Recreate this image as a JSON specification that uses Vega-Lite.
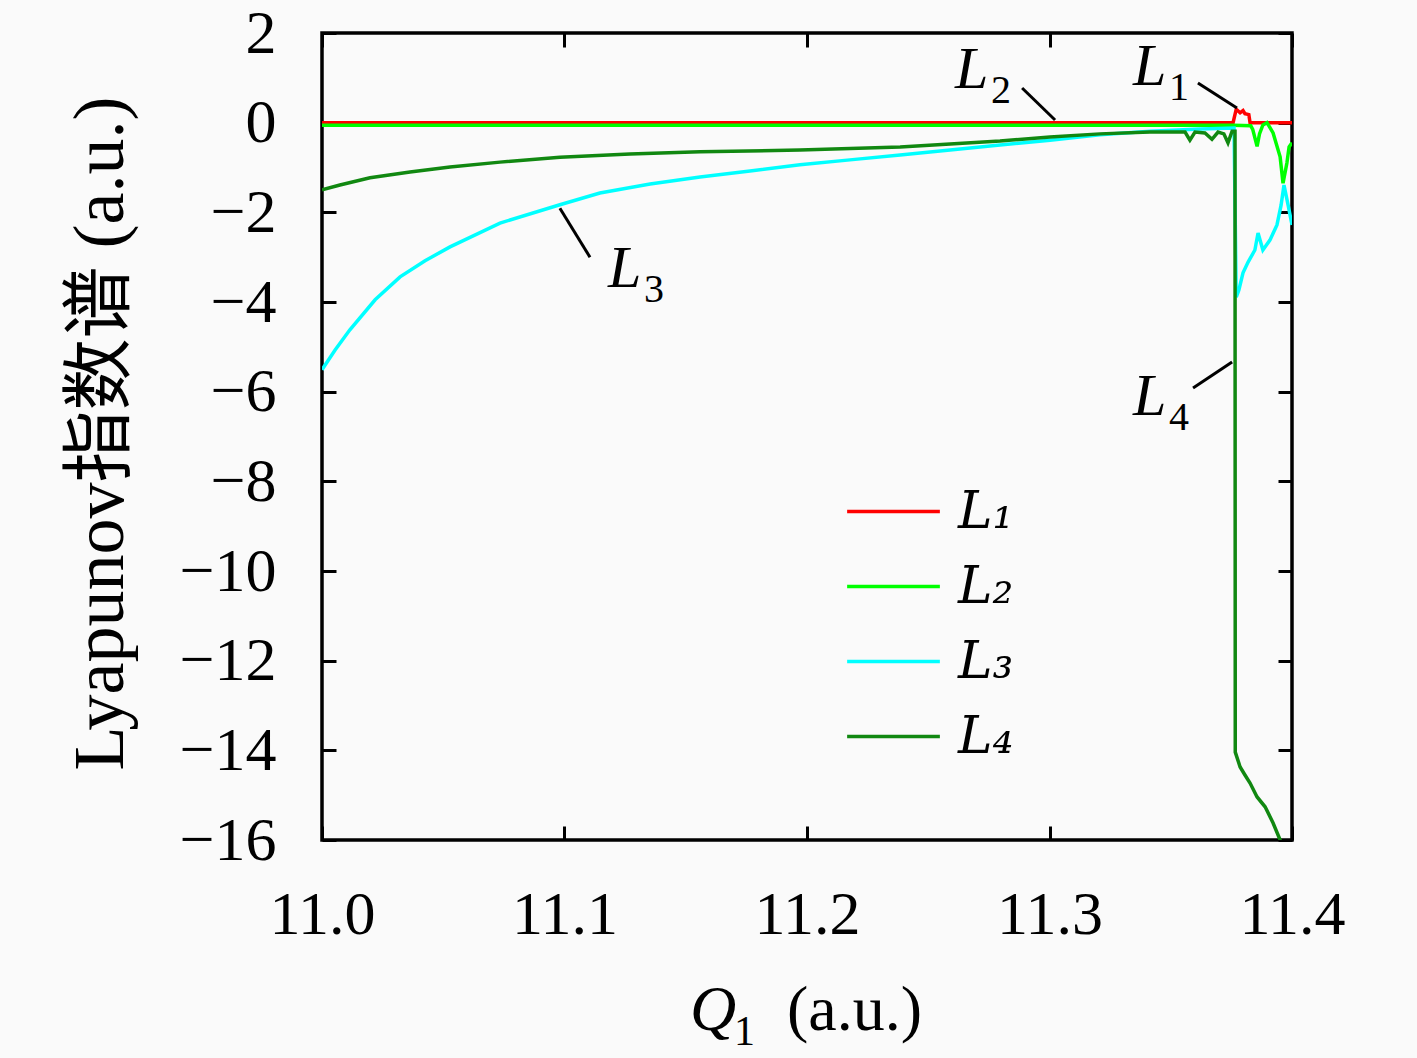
{
  "$schema": "https://vega.github.io/schema/vega-lite/v6.json",
  "autosize": "none",
  "width": 970,
  "height": 807,
  "padding": {"left": 322, "top": 33, "right": 125, "bottom": 218},
  "background": "#fafafa",
  "config": {
    "font": "Liberation Serif, serif",
    "view": {"stroke": "black", "strokeWidth": 3.5},
    "axis": {
      "grid": false,
      "domain": false,
      "tickColor": "black",
      "tickWidth": 3,
      "tickSize": -14,
      "labelFont": "Liberation Serif, serif",
      "labelFontSize": 62,
      "labelColor": "black",
      "titleColor": "black"
    },
    "text": {"font": "Liberation Serif, serif"}
  },
  "datasets": {
    "series": [
      {"exp": "L1", "q": 11.0, "lyap": 0},
      {"exp": "L1", "q": 11.3757, "lyap": 0},
      {"exp": "L1", "q": 11.377, "lyap": 0.3},
      {"exp": "L1", "q": 11.3786, "lyap": 0.22},
      {"exp": "L1", "q": 11.3798, "lyap": 0.27},
      {"exp": "L1", "q": 11.3806, "lyap": 0.2},
      {"exp": "L1", "q": 11.3822, "lyap": 0.18},
      {"exp": "L1", "q": 11.3827, "lyap": 0},
      {"exp": "L1", "q": 11.4, "lyap": 0},

      {"exp": "L2", "q": 11.0, "lyap": -0.06},
      {"exp": "L2", "q": 11.3757, "lyap": -0.06},
      {"exp": "L2", "q": 11.383, "lyap": -0.07},
      {"exp": "L2", "q": 11.3838, "lyap": -0.15},
      {"exp": "L2", "q": 11.3856, "lyap": -0.53},
      {"exp": "L2", "q": 11.3866, "lyap": -0.25},
      {"exp": "L2", "q": 11.388, "lyap": -0.05},
      {"exp": "L2", "q": 11.3897, "lyap": 0.0},
      {"exp": "L2", "q": 11.3922, "lyap": -0.23},
      {"exp": "L2", "q": 11.3951, "lyap": -0.76},
      {"exp": "L2", "q": 11.3963, "lyap": -1.35},
      {"exp": "L2", "q": 11.3979, "lyap": -0.9},
      {"exp": "L2", "q": 11.3988, "lyap": -0.54},
      {"exp": "L2", "q": 11.4, "lyap": -0.45},

      {"exp": "L3", "q": 11.0, "lyap": -5.51},
      {"exp": "L3", "q": 11.0054, "lyap": -5.07},
      {"exp": "L3", "q": 11.0115, "lyap": -4.62},
      {"exp": "L3", "q": 11.0219, "lyap": -3.95},
      {"exp": "L3", "q": 11.0322, "lyap": -3.44},
      {"exp": "L3", "q": 11.0425, "lyap": -3.08},
      {"exp": "L3", "q": 11.0528, "lyap": -2.77},
      {"exp": "L3", "q": 11.0734, "lyap": -2.24},
      {"exp": "L3", "q": 11.0981, "lyap": -1.83},
      {"exp": "L3", "q": 11.1146, "lyap": -1.57},
      {"exp": "L3", "q": 11.1353, "lyap": -1.37},
      {"exp": "L3", "q": 11.1559, "lyap": -1.21},
      {"exp": "L3", "q": 11.1765, "lyap": -1.08},
      {"exp": "L3", "q": 11.1971, "lyap": -0.94},
      {"exp": "L3", "q": 11.2177, "lyap": -0.83},
      {"exp": "L3", "q": 11.2384, "lyap": -0.72},
      {"exp": "L3", "q": 11.259, "lyap": -0.61},
      {"exp": "L3", "q": 11.2796, "lyap": -0.5},
      {"exp": "L3", "q": 11.3002, "lyap": -0.39},
      {"exp": "L3", "q": 11.3208, "lyap": -0.27},
      {"exp": "L3", "q": 11.3414, "lyap": -0.19},
      {"exp": "L3", "q": 11.3621, "lyap": -0.14},
      {"exp": "L3", "q": 11.3761, "lyap": -0.12},
      {"exp": "L3", "q": 11.377, "lyap": -3.89},
      {"exp": "L3", "q": 11.3781, "lyap": -3.73},
      {"exp": "L3", "q": 11.3798, "lyap": -3.35},
      {"exp": "L3", "q": 11.3819, "lyap": -3.11},
      {"exp": "L3", "q": 11.3847, "lyap": -2.84},
      {"exp": "L3", "q": 11.386, "lyap": -2.46},
      {"exp": "L3", "q": 11.388, "lyap": -2.84},
      {"exp": "L3", "q": 11.3909, "lyap": -2.62},
      {"exp": "L3", "q": 11.3938, "lyap": -2.28},
      {"exp": "L3", "q": 11.3955, "lyap": -1.84},
      {"exp": "L3", "q": 11.3967, "lyap": -1.39},
      {"exp": "L3", "q": 11.3984, "lyap": -1.84},
      {"exp": "L3", "q": 11.4, "lyap": -2.28},

      {"exp": "L4", "q": 11.0, "lyap": -1.5},
      {"exp": "L4", "q": 11.0074, "lyap": -1.39},
      {"exp": "L4", "q": 11.0198, "lyap": -1.23},
      {"exp": "L4", "q": 11.0363, "lyap": -1.1},
      {"exp": "L4", "q": 11.0528, "lyap": -0.99},
      {"exp": "L4", "q": 11.0734, "lyap": -0.88},
      {"exp": "L4", "q": 11.0981, "lyap": -0.77},
      {"exp": "L4", "q": 11.127, "lyap": -0.7},
      {"exp": "L4", "q": 11.1559, "lyap": -0.65},
      {"exp": "L4", "q": 11.1971, "lyap": -0.61},
      {"exp": "L4", "q": 11.2384, "lyap": -0.54},
      {"exp": "L4", "q": 11.2796, "lyap": -0.41},
      {"exp": "L4", "q": 11.3002, "lyap": -0.32},
      {"exp": "L4", "q": 11.3208, "lyap": -0.25},
      {"exp": "L4", "q": 11.3414, "lyap": -0.21},
      {"exp": "L4", "q": 11.3559, "lyap": -0.21},
      {"exp": "L4", "q": 11.3579, "lyap": -0.39},
      {"exp": "L4", "q": 11.36, "lyap": -0.21},
      {"exp": "L4", "q": 11.3641, "lyap": -0.23},
      {"exp": "L4", "q": 11.367, "lyap": -0.37},
      {"exp": "L4", "q": 11.3695, "lyap": -0.21},
      {"exp": "L4", "q": 11.3719, "lyap": -0.25},
      {"exp": "L4", "q": 11.3736, "lyap": -0.45},
      {"exp": "L4", "q": 11.3753, "lyap": -0.19},
      {"exp": "L4", "q": 11.3765, "lyap": -0.19},
      {"exp": "L4", "q": 11.3766, "lyap": -14.04},
      {"exp": "L4", "q": 11.3786, "lyap": -14.37},
      {"exp": "L4", "q": 11.3806, "lyap": -14.55},
      {"exp": "L4", "q": 11.3827, "lyap": -14.73},
      {"exp": "L4", "q": 11.3856, "lyap": -15.04},
      {"exp": "L4", "q": 11.3889, "lyap": -15.26},
      {"exp": "L4", "q": 11.3922, "lyap": -15.62},
      {"exp": "L4", "q": 11.3951, "lyap": -16.0},
      {"exp": "L4", "q": 11.3971, "lyap": -16.22}
    ],
    "notes": [
      {"name": "L", "sub": "1", "tx": 11.3344, "ty": 0.84, "ax": 11.3612, "ay": 0.884, "bx": 11.3773, "by": 0.326},
      {"name": "L", "sub": "2", "tx": 11.261, "ty": 0.774, "ax": 11.2887, "ay": 0.774, "bx": 11.3023, "by": 0.06},
      {"name": "L", "sub": "3", "tx": 11.1179, "ty": -3.665, "ax": 11.0981, "ay": -1.907, "bx": 11.1105, "by": -3.0},
      {"name": "L", "sub": "4", "tx": 11.3344, "ty": -6.52, "ax": 11.3592, "ay": -5.918, "bx": 11.3753, "by": -5.338}
    ],
    "xtitle": [
      {"q": 11.1608, "lyap": -19.84}
    ]
  },
  "layer": [
    {
      "data": {"name": "series"},
      "mark": {"type": "line", "strokeWidth": 3.5, "clip": true},
      "encoding": {
        "x": {
          "field": "q",
          "type": "quantitative",
          "scale": {"domain": [11, 11.4], "nice": false, "zero": false},
          "axis": {
            "orient": "bottom",
            "values": [11, 11.1, 11.2, 11.3, 11.4],
            "format": ".1f",
            "labelPadding": 58,
            "labelFlush": false,
            "title": null
          }
        },
        "y": {
          "field": "lyap",
          "type": "quantitative",
          "scale": {"domain": [-16, 2], "nice": false, "zero": false},
          "axis": {
            "orient": "left",
            "values": [-16, -14, -12, -10, -8, -6, -4, -2, 0, 2],
            "labelPadding": 60,
            "labelFlush": false,
            "title": "Lyapunov指数谱 (a.u.)",
            "titleFont": "Liberation Serif, Noto Sans CJK SC, serif",
            "titleFontSize": 72,
            "titleFontWeight": "normal",
            "titleX": -185,
            "titleY": 400
          }
        },
        "color": {
          "field": "exp",
          "type": "nominal",
          "scale": {"domain": ["L1", "L2", "L3", "L4"], "range": ["#ff0000", "#00ff00", "#00ffff", "#118811"]},
          "legend": {
            "orient": "none",
            "legendX": 523,
            "legendY": 430,
            "title": null,
            "symbolType": "stroke",
            "symbolSize": 8600,
            "symbolStrokeWidth": 3.5,
            "labelFont": "DejaVu Serif",
            "labelFontStyle": "italic",
            "labelFontSize": 52,
            "labelColor": "black",
            "labelOffset": 16,
            "rowPadding": -2,
            "labelExpr": "replace(replace(replace(replace(datum.label, '1', '₁'), '2', '₂'), '3', '₃'), '4', '₄')"
          }
        }
      }
    },
    {
      "data": {"name": "notes"},
      "mark": {"type": "rule", "strokeWidth": 3, "color": "black"},
      "encoding": {
        "x": {
          "field": "ax",
          "type": "quantitative",
          "axis": {"orient": "top", "values": [11, 11.1, 11.2, 11.3, 11.4], "labels": false, "title": null}
        },
        "y": {
          "field": "ay",
          "type": "quantitative",
          "axis": {"orient": "right", "values": [-16, -14, -12, -10, -8, -6, -4, -2, 0, 2], "labels": false, "title": null}
        },
        "x2": {"field": "bx"},
        "y2": {"field": "by"}
      }
    },
    {
      "data": {"name": "notes"},
      "mark": {"type": "text", "fontSize": 60, "fontStyle": "italic", "align": "left", "baseline": "alphabetic", "color": "black"},
      "encoding": {
        "x": {"field": "tx", "type": "quantitative", "axis": null},
        "y": {"field": "ty", "type": "quantitative", "axis": null},
        "text": {"field": "name"}
      }
    },
    {
      "data": {"name": "notes"},
      "mark": {"type": "text", "fontSize": 40, "align": "left", "baseline": "alphabetic", "dx": 36, "dy": 15, "color": "black"},
      "encoding": {
        "x": {"field": "tx", "type": "quantitative", "axis": null},
        "y": {"field": "ty", "type": "quantitative", "axis": null},
        "text": {"field": "sub"}
      }
    },
    {
      "data": {"name": "xtitle"},
      "layer": [
        {
          "mark": {"type": "text", "text": "Q", "fontSize": 64, "fontStyle": "italic", "align": "left", "baseline": "alphabetic", "dx": -22, "dy": 18, "color": "black"},
          "encoding": {
            "x": {"field": "q", "type": "quantitative", "axis": null},
            "y": {"field": "lyap", "type": "quantitative", "axis": null}
          }
        },
        {
          "mark": {"type": "text", "text": "1", "fontSize": 42, "align": "left", "baseline": "alphabetic", "dx": 22, "dy": 33, "color": "black"},
          "encoding": {
            "x": {"field": "q", "type": "quantitative", "axis": null},
            "y": {"field": "lyap", "type": "quantitative", "axis": null}
          }
        },
        {
          "mark": {"type": "text", "text": "(a.u.)", "fontSize": 64, "align": "left", "baseline": "alphabetic", "dx": 75, "dy": 18, "color": "black"},
          "encoding": {
            "x": {"field": "q", "type": "quantitative", "axis": null},
            "y": {"field": "lyap", "type": "quantitative", "axis": null}
          }
        }
      ]
    }
  ],
  "resolve": {"axis": {"x": "independent", "y": "independent"}}
}
